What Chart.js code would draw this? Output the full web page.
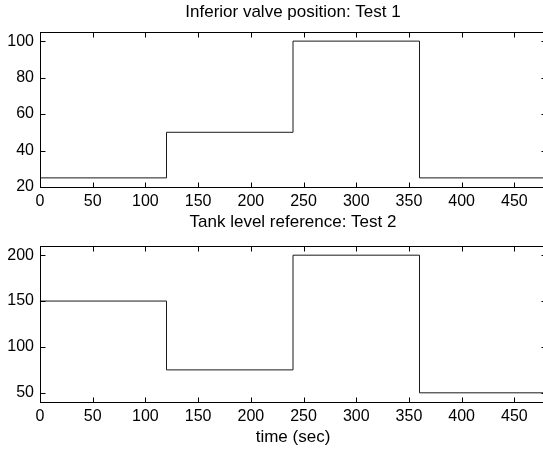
<!DOCTYPE html>
<html>
<head>
<meta charset="utf-8">
<script src="https://cdn.jsdelivr.net/npm/chart.js@4.4.0/dist/chart.umd.min.js"></script>
<style>
  body { margin: 0; background: #fff; overflow: hidden; width: 543px; height: 452px; position: relative; }
  canvas { position: absolute; left: 0; }
  #valveChart { top: 0; }
  #levelChart { top: 210px; }
</style>
</head>
<body>
<canvas id="valveChart" width="548" height="210"></canvas>
<canvas id="levelChart" width="548" height="242"></canvas>
<script>
// step changes (value holds until the next time)
const timeSec = [0, 120, 240, 360, 480];
const valvePosition = [25, 50, 100, 25, 25];
const tankLevelRef = [150, 75, 200, 50, 50];

const timeTicks = [0, 50, 100, 150, 200, 250, 300, 350, 400, 450];
const valveTicks = [20, 40, 60, 80, 100];
const levelTicks = [50, 100, 150, 200];

const FONT = 'Liberation Sans, Arial, Helvetica, sans-serif';

// matlab style box with inward ticks on all four sides
const boxPlugin = {
  id: 'box',
  afterDraw(chart) {
    const { ctx, chartArea: a, scales: { x, y } } = chart;
    const L = Math.round(a.left) + 0.5, R = Math.round(a.right) + 0.5;
    const T = Math.round(a.top) + 0.5, B = Math.round(a.bottom) + 0.5;
    ctx.save();
    ctx.strokeStyle = '#000';
    ctx.lineWidth = 1;
    ctx.strokeRect(L, T, R - L, B - T);
    ctx.beginPath();
    x.ticks.forEach(t => {
      const px = Math.round(x.getPixelForValue(t.value)) + 0.5;
      ctx.moveTo(px, B); ctx.lineTo(px, B - 5);
      ctx.moveTo(px, T); ctx.lineTo(px, T + 5);
    });
    y.ticks.forEach(t => {
      const py = Math.round(y.getPixelForValue(t.value)) + 0.5;
      ctx.moveTo(L, py); ctx.lineTo(L + 5, py);
      ctx.moveTo(R, py); ctx.lineTo(R - 5, py);
    });
    ctx.stroke();
    ctx.restore();
  }
};

function makeChart(id, values, yMin, yMax, yTicks, title, opts) {
  return new Chart(document.getElementById(id), {
    type: 'line',
    data: {
      datasets: [{
        data: timeSec.map((t, i) => ({ x: t, y: values[i] })),
        stepped: true,
        borderColor: '#1a1a1a',
        borderWidth: 1,
        pointRadius: 0,
        fill: false
      }]
    },
    options: {
      responsive: false,
      animation: false,
      layout: { padding: { left: 0, right: 2, top: 0, bottom: 0 } },
      plugins: {
        legend: { display: false },
        tooltip: { enabled: false },
        title: {
          display: true,
          text: title,
          fullSize: false,
          color: '#000',
          font: { family: FONT, size: 17, weight: 'normal' },
          padding: { top: 2, bottom: opts.titleGap }
        }
      },
      scales: {
        x: {
          type: 'linear',
          min: 0,
          max: 480,
          afterBuildTicks: s => { s.ticks = timeTicks.map(v => ({ value: v })); },
          afterFit: s => { s.height = opts.xHeight; },
          grid: { display: false, drawTicks: false },
          border: { display: false },
          ticks: { color: '#000', font: { family: FONT, size: 16 }, padding: 5, maxRotation: 0, autoSkip: false },
          title: opts.xTitle ? {
            display: true, text: opts.xTitle, color: '#000',
            font: { family: FONT, size: 17 }, padding: { top: 0, bottom: 4 }
          } : { display: false }
        },
        y: {
          min: yMin,
          max: yMax,
          afterBuildTicks: s => { s.ticks = yTicks.map(v => ({ value: v })); },
          afterFit: s => { s.width = 40; },
          grid: { display: false, drawTicks: false },
          border: { display: false },
          ticks: { color: '#000', font: { family: FONT, size: 16 }, padding: 6 }
        }
      }
    },
    plugins: [boxPlugin]
  });
}

makeChart('valveChart', valvePosition, 20, 105, valveTicks,
  'Inferior valve position: Test 1', { titleGap: 9.6, xHeight: 23 });
makeChart('levelChart', tankLevelRef, 40, 210, levelTicks,
  'Tank level reference: Test 2', { titleGap: 13.6, xHeight: 50, xTitle: 'time (sec)' });
</script>
</body>
</html>
